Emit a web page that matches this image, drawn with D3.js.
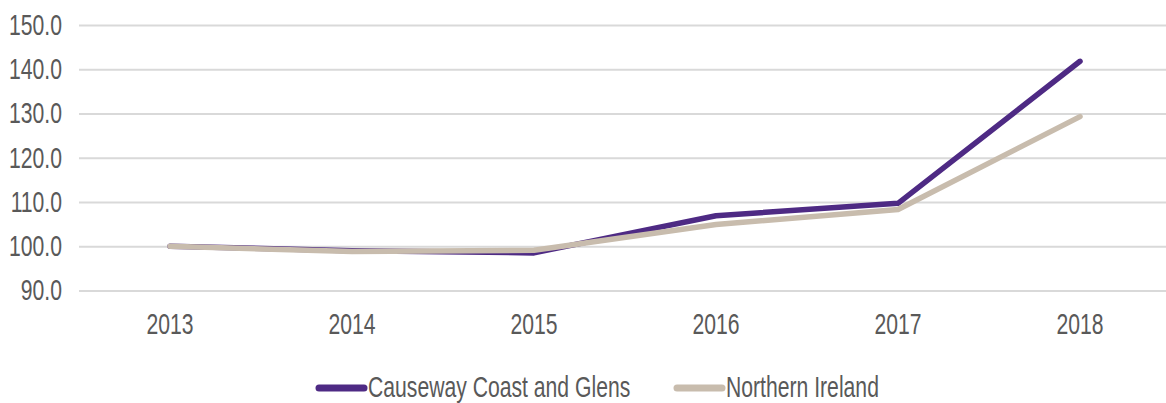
<!DOCTYPE html>
<html>
<head>
<meta charset="utf-8">
<script src="https://cdn.jsdelivr.net/npm/d3@7"></script>
<style>
  html, body { margin: 0; padding: 0; background: #fff; }
  svg text { font-family: "Liberation Sans", Arial, sans-serif; fill: #595959; }
</style>
</head>
<body>
<svg id="chart" width="1166" height="403"></svg>
<script>
// Index values (2013 = 100)
const years = ["2013", "2014", "2015", "2016", "2017", "2018"];
const causewayCoast = [100.0, 99.0, 98.5, 106.9, 109.7, 141.8];
const northernIreland = [100.0, 98.8, 99.1, 104.9, 108.3, 129.3];
const yTicks = [90, 100, 110, 120, 130, 140, 150];
const seriesNames = ["Causeway Coast and Glens", "Northern Ireland"];
const seriesColors = ["#4e2a84", "#c8bcad"];

const svg = d3.select("#chart");
const W = 1166;
const SX = 0.73;          // narrow glyph width
const FONT = 29;

const x = d3.scalePoint().domain(years).range([170, 1080]).padding(0);
const y = d3.scaleLinear().domain([90, 150]).range([290.5, 25]);
const left = 79;

// gridlines and value labels
const yAxis = d3.axisLeft(y)
  .tickValues(yTicks)
  .tickFormat(d3.format(".1f"))
  .tickSizeInner(-(W - left))
  .tickSizeOuter(0)
  .tickPadding(17);

const gy = svg.append("g").attr("transform", `translate(${left},0)`).call(yAxis);
gy.select(".domain").remove();
gy.selectAll(".tick line").attr("stroke", "#d9d9d9").attr("stroke-width", 2);
gy.selectAll(".tick text")
  .attr("font-size", FONT)
  .attr("fill", "#595959")
  .attr("font-family", null)
  .attr("x", -17 / SX)
  .attr("transform", `scale(${SX},1)`);

// year labels
const xAxis = d3.axisBottom(x).tickSize(0).tickPadding(0);
const gx = svg.append("g").call(xAxis);
gx.select(".domain").remove();
gx.selectAll(".tick text")
  .attr("font-size", FONT)
  .attr("font-family", null)
  .attr("fill", "#595959")
  .attr("dy", null)
  .attr("y", 334)
  .attr("transform", `scale(${SX},1)`)
  .each(function (d) {
    d3.select(this.parentNode).attr("transform", `translate(${x(d)},0)`);
  });

// series lines
const line = d3.line()
  .x((d, i) => x(years[i]))
  .y(d => y(d));

[causewayCoast, northernIreland].forEach((vals, k) => {
  svg.append("path")
    .datum(vals)
    .attr("d", line)
    .attr("fill", "none")
    .attr("stroke", seriesColors[k])
    .attr("stroke-width", 5.5)
    .attr("stroke-linecap", "round")
    .attr("stroke-linejoin", "round");
});

// legend
const legendItems = [
  { name: seriesNames[0], color: seriesColors[0], x0: 316 },
  { name: seriesNames[1], color: seriesColors[1], x0: 674 }
];
const lg = svg.append("g");
legendItems.forEach(it => {
  lg.append("line")
    .attr("x1", it.x0 + 3).attr("x2", it.x0 + 48)
    .attr("y1", 388).attr("y2", 388)
    .attr("stroke", it.color)
    .attr("stroke-width", 7)
    .attr("stroke-linecap", "round");
  lg.append("text")
    .attr("transform", `translate(${it.x0 + 52},397) scale(${SX},1)`)
    .attr("font-size", FONT)
    .text(it.name);
});
</script>
</body>
</html>
